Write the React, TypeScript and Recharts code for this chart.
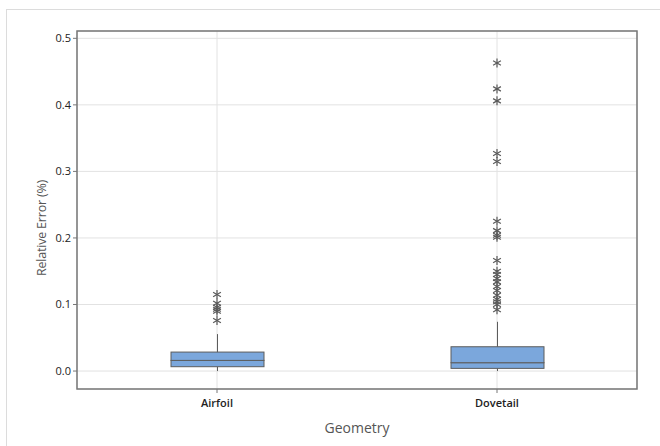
import React from 'react';
import {
  ComposedChart,
  Bar,
  Scatter,
  XAxis,
  YAxis,
  CartesianGrid,
  ReferenceArea,
} from 'recharts';

const categories = ['Airfoil', 'Dovetail'];
const whiskerLow = [0.0, 0.0];
const q1 = [0.0065, 0.004];
const median = [0.016, 0.0125];
const q3 = [0.0285, 0.0365];
const whiskerHigh = [0.0555, 0.074];

const airfoilOutliers = [0.115, 0.102, 0.096, 0.093, 0.09, 0.076];
const dovetailOutliers = [
  0.463, 0.424, 0.406, 0.327, 0.315, 0.225, 0.211, 0.204, 0.201, 0.166, 0.15,
  0.145, 0.139, 0.134, 0.127, 0.121, 0.114, 0.108, 0.104, 0.1, 0.092,
];

const yTicks = [0, 0.1, 0.2, 0.3, 0.4, 0.5];
const yDomain = [-0.027, 0.511];

const boxData = categories.map((name, i) => ({
  name,
  pos: i + 1,
  base: whiskerLow[i],
  lowWhisker: q1[i] - whiskerLow[i],
  lowBox: median[i] - q1[i],
  highBox: q3[i] - median[i],
  highWhisker: whiskerHigh[i] - q3[i],
}));

const outlierSets = [airfoilOutliers, dovetailOutliers].map((vals, i) =>
  vals.map((value) => ({ pos: i + 1, value }))
);

const BOX_FILL = '#7ba7dc';
const LINE = '#5c5c5c';
const FONT = '"Open Sans", "Noto Sans", sans-serif';

const Whisker = (props: any) => {
  const { x, y, width, height } = props;
  const cx = x + width / 2;
  return <line x1={cx} x2={cx} y1={y} y2={y + height} stroke={LINE} strokeWidth={1} />;
};

const BoxPart = (props: any) => {
  const { x, y, width, height } = props;
  return (
    <rect x={x} y={y} width={width} height={height} fill={BOX_FILL} stroke={LINE} strokeWidth={1} />
  );
};

const Star = (props: any) => {
  const { cx, cy } = props;
  const r = 4.5;
  const dx = r * Math.cos(Math.PI / 6);
  const dy = r * Math.sin(Math.PI / 6);
  return (
    <g stroke="#5a5a5a" strokeWidth={1.2}>
      <line x1={cx} y1={cy - r} x2={cx} y2={cy + r} />
      <line x1={cx - dx} y1={cy - dy} x2={cx + dx} y2={cy + dy} />
      <line x1={cx - dx} y1={cy + dy} x2={cx + dx} y2={cy - dy} />
    </g>
  );
};

const YTitle = (props: any) => {
  const { viewBox } = props;
  const x = viewBox.x + 41;
  const y = viewBox.y + viewBox.height / 2 + 18;
  return (
    <text
      x={x}
      y={y}
      transform={`rotate(-90, ${x}, ${y})`}
      textAnchor="middle"
      dominantBaseline="central"
      fill="#555"
      fontSize={12.5}
      letterSpacing={-0.2}
      fontFamily={FONT}
    >
      Relative Error (%)
    </text>
  );
};

export default function App() {
  return (
    <div style={{ position: 'absolute', left: 0, top: 0, width: 660, height: 446, background: '#fff' }}>
      <div
        style={{
          position: 'absolute',
          left: 6,
          top: 9,
          right: -2,
          bottom: -2,
          borderLeft: '1px solid #dcdcdc',
          borderTop: '1px solid #dcdcdc',
        }}
      />
      <ComposedChart
        width={660}
        height={446}
        data={boxData}
        margin={{ top: 31, right: 23, bottom: 0, left: 0 }}
        style={{ position: 'absolute', left: 0, top: 0, fontFamily: FONT }}
      >
        <CartesianGrid stroke="#e2e2e2" />
        <XAxis
          dataKey="pos"
          type="number"
          domain={[0.5, 2.5]}
          ticks={[1, 2]}
          tickFormatter={(v: number) => categories[v - 1] ?? ''}
          height={57}
          tickSize={4}
          tickMargin={6}
          axisLine={false}
          tickLine={{ stroke: '#777' }}
          tick={{ fill: '#222', fontSize: 11, fontWeight: 600 }}
          label={{ value: 'Geometry', position: 'insideBottom', offset: 13, fill: '#555', fontSize: 14 }}
        />
        <YAxis
          type="number"
          domain={yDomain}
          ticks={yTicks}
          allowDataOverflow
          width={77}
          tickSize={4}
          tickMargin={2}
          axisLine={false}
          tickLine={{ stroke: '#777' }}
          tickFormatter={(v: number) => v.toFixed(1)}
          tick={{ fill: '#222', fontSize: 11 }}
          label={<YTitle />}
        />
        <ReferenceArea
          x1={0.5}
          x2={2.5}
          y1={yDomain[0]}
          y2={yDomain[1]}
          fill="none"
          stroke="#777"
          strokeWidth={1.5}
          ifOverflow="visible"
        />
        <Bar dataKey="base" stackId="box" barSize={93} fill="transparent" isAnimationActive={false} />
        <Bar dataKey="lowWhisker" stackId="box" barSize={93} shape={Whisker} isAnimationActive={false} />
        <Bar dataKey="lowBox" stackId="box" barSize={93} shape={BoxPart} isAnimationActive={false} />
        <Bar dataKey="highBox" stackId="box" barSize={93} shape={BoxPart} isAnimationActive={false} />
        <Bar dataKey="highWhisker" stackId="box" barSize={93} shape={Whisker} isAnimationActive={false} />
        {outlierSets.map((set, i) => (
          <Scatter
            key={categories[i]}
            data={set}
            dataKey="value"
            shape={Star}
            isAnimationActive={false}
          />
        ))}
      </ComposedChart>
    </div>
  );
}
